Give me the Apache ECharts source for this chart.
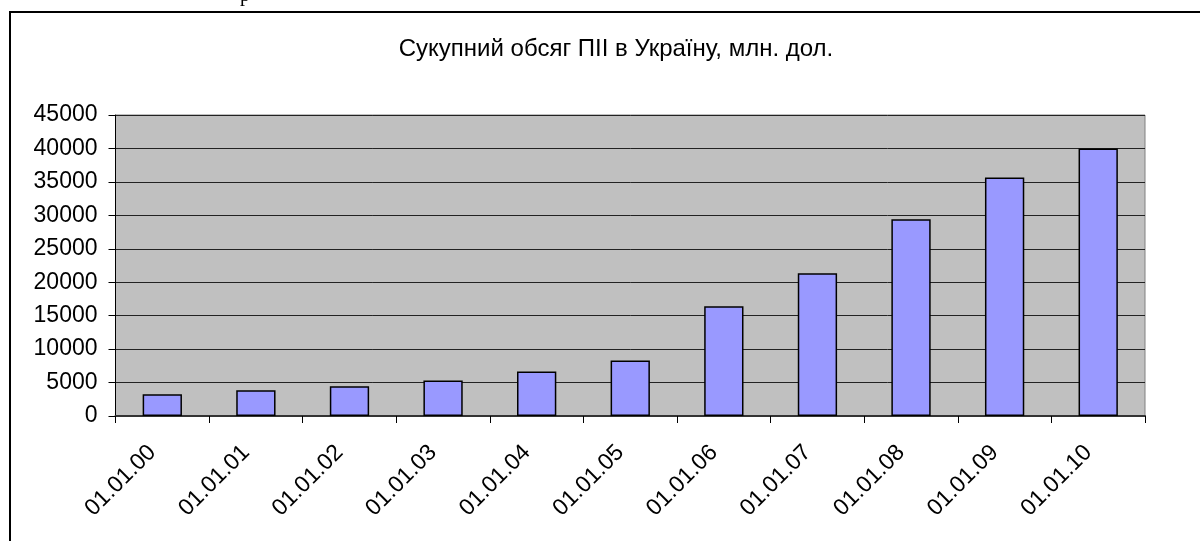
<!DOCTYPE html>
<html><head><meta charset="utf-8">
<script src="https://cdn.jsdelivr.net/npm/echarts@6/dist/echarts.min.js"></script>
<style>html,body{margin:0;padding:0;background:#fff}#c{width:1200px;height:541px}</style>
</head><body><div id="c"></div>
<script>
const titleText = 'Сукупний обсяг ПІІ в Україну, млн. дол.';
const categories = ['01.01.00','01.01.01','01.01.02','01.01.03','01.01.04','01.01.05','01.01.06','01.01.07','01.01.08','01.01.09','01.01.10'];
const values = [3250, 3850, 4450, 5300, 6650, 8300, 16400, 21350, 29400, 35650, 40000];
const yMin = 0, yMax = 45000, yStep = 5000;

const chart = echarts.init(document.getElementById('c'), null, {renderer:'canvas'});
chart.setOption({
  animation:false,
  backgroundColor:'#fff',
  title:{text:titleText, left:611, textAlign:'center', top:32,
    textStyle:{fontFamily:'Liberation Sans', fontSize:24, fontWeight:'normal', color:'#000'}},
  graphic:[
    {type:'rect', shape:{x:10, y:12, width:1200, height:600}, style:{fill:'none', stroke:'#000', lineWidth:2}, z:100},
    {type:'text', x:240, y:-14, style:{text:'р', font:'20px "Liberation Serif"', fill:'#000'}}
  ],
  grid:{left:115.5, right:55, top:115, bottom:125, show:true, backgroundColor:'#c0c0c0', borderColor:'#808080', borderWidth:1},
  xAxis:{type:'category', data:categories,
    axisLine:{lineStyle:{color:'#333', width:2}},
    axisTick:{show:true, length:7, lineStyle:{color:'#000'}},
    axisLabel:{rotate:45, margin:23, padding:[0,14,0,0], fontFamily:'Liberation Sans', fontSize:23, color:'#000'}},
  yAxis:{type:'value', min:yMin, max:yMax, interval:yStep,
    axisLine:{show:true, lineStyle:{color:'#000', width:1}},
    axisTick:{show:true, length:7, lineStyle:{color:'#000'}},
    splitLine:{show:true, lineStyle:{color:'#222', width:1}},
    axisLabel:{margin:18, fontFamily:'Liberation Sans', fontSize:23, color:'#000', formatter:(v)=>String(v)}},
  series:[{type:'bar', data:values, barWidth:'42%',
    itemStyle:{color:'#9999ff', borderColor:'#000', borderWidth:1.5}}]
});
</script></body></html>
